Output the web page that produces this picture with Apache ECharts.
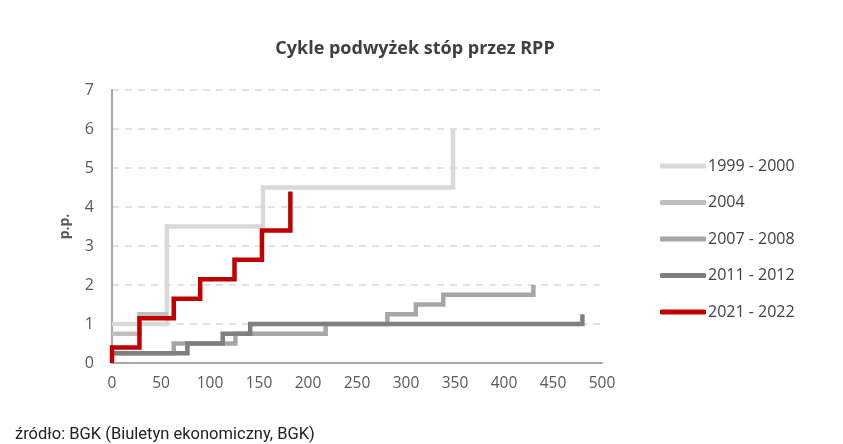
<!DOCTYPE html>
<html>
<head>
<meta charset="utf-8">
<script src="https://cdn.jsdelivr.net/npm/echarts@6/dist/echarts.min.js"></script>
<style>
  html, body { margin: 0; padding: 0; background: #fff; }
  #main { width: 843px; height: 444px; }
</style>
</head>
<body>
<div id="main"></div>
<script>
// dane: [dzien od pierwszej podwyzki, skumulowana zmiana w p.p.]
var names = ['1999 - 2000', '2004', '2007 - 2008', '2011 - 2012', '2021 - 2022'];
var cycle1999 = [[0, 1.0], [56, 3.5], [154, 4.5], [348, 6.0]];
var cycle2004 = [[0, 0.75], [28, 1.25], [57, 1.25]];
var cycle2007 = [[0, 0.25], [63, 0.5], [126, 0.75], [218, 1.0], [281, 1.25], [310, 1.5], [338, 1.75], [430, 2.0]];
var cycle2011 = [[0, 0.25], [77, 0.5], [113, 0.75], [141, 1.0], [480, 1.25]];
var cycle2021 = [[0, 0], [0, 0.4], [28, 1.15], [63, 1.65], [90, 2.15], [125, 2.65], [153, 3.4], [182, 4.4]];
var colors = ['#d9d9d9', '#bfbfbf', '#a6a6a6', '#7f7f7f', '#c00000'];

var allData = [cycle1999, cycle2004, cycle2007, cycle2011, cycle2021];

var chart = echarts.init(document.getElementById('main'));

var series = [];
for (var i = 0; i < names.length; i++) {
  series.push({
    name: names[i],
    type: 'line',
    step: 'end',
    data: allData[i],
    showSymbol: false,
    symbol: 'none',
    color: colors[i],
    lineStyle: { color: colors[i], width: 4.5, join: 'miter' },
    z: 2 + i
  });
}

var option = {
  backgroundColor: '#fff',
  animation: false,
  textStyle: { fontFamily: 'Open Sans' },
  title: {
    text: 'Cykle podwyżek stóp przez RPP',
    left: 410,
    textAlign: 'center',
    top: 35,
    textStyle: { color: '#404040', fontSize: 18, fontWeight: 'bold', fontFamily: 'Open Sans' }
  },
  graphic: [{
    type: 'text',
    left: 15,
    top: 426,
    style: {
      text: 'źródło: BGK (Biuletyn ekonomiczny, BGK)',
      fill: '#222',
      font: '16.5px Roboto'
    }
  }],
  legend: {
    orient: 'vertical',
    left: 655,
    top: 153,
    itemWidth: 46,
    itemHeight: 5,
    itemGap: 20.5,
    icon: 'roundRect',
    textStyle: { color: '#404040', fontSize: 16, padding: [0, 0, 0, -3], fontFamily: 'Open Sans' },
    data: names
  },
  grid: { left: 112, right: 241, top: 90, bottom: 81 },
  xAxis: {
    type: 'value',
    min: 0,
    max: 500,
    interval: 50,
    axisLine: { show: true, lineStyle: { color: '#a6a6a6', width: 2 } },
    axisTick: { show: false },
    splitLine: { show: false },
    axisLabel: { color: '#595959', fontSize: 15.5, margin: 13, fontFamily: 'Open Sans' }
  },
  yAxis: {
    type: 'value',
    min: 0,
    max: 7,
    interval: 1,
    name: 'p.p.',
    nameLocation: 'middle',
    nameGap: 40,
    nameRotate: 90,
    nameTextStyle: { color: '#595959', fontSize: 14, fontWeight: 'bold', fontFamily: 'Open Sans' },
    axisLine: { show: true, lineStyle: { color: '#a6a6a6', width: 2 } },
    axisTick: { show: false },
    splitLine: { show: true, lineStyle: { color: '#d9d9d9', type: [7, 6], width: 1.5 } },
    axisLabel: { color: '#595959', fontSize: 16, margin: 18, fontFamily: 'Open Sans' }
  },
  series: series
};

chart.setOption(option);
</script>
</body>
</html>
